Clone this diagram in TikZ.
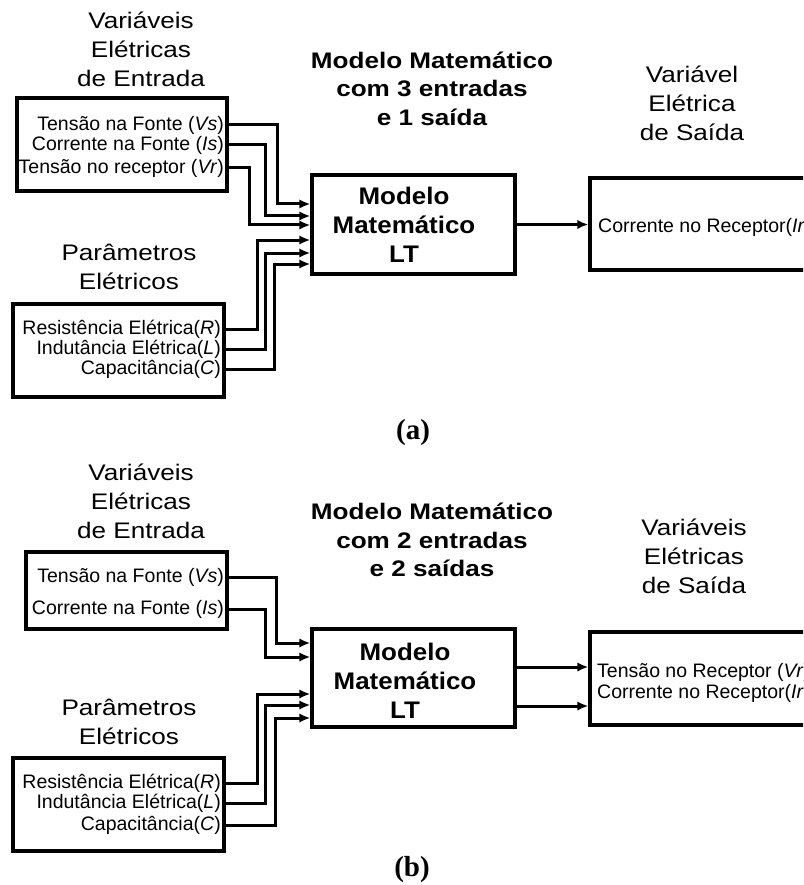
\documentclass[tikz,border=0pt]{standalone}
\usepackage{fontspec}
\setmainfont{Liberation Sans}
\newfontfamily\headfont[FakeStretch=1.16]{Liberation Sans}
\newfontfamily\modelfont[FakeStretch=1.08]{Liberation Sans}
\newfontfamily\capfont{Liberation Serif}
\usetikzlibrary{arrows.meta}

\tikzset{
  frame/.style={draw, line width=3.4pt, inner sep=0pt},
  wire/.style={line width=3pt, -{Latex[length=11pt,width=9.5pt]}},
  head/.style={align=center, inner sep=0pt, font=\headfont\fontsize{22.5}{29}\selectfont},
  headbf/.style={align=center, inner sep=0pt, font=\headfont\bfseries\fontsize{22.5}{28.5}\selectfont},
  item/.style={anchor=east, inner sep=0pt, font=\fontsize{19.5}{22}\selectfont},
  modeltext/.style={align=center, inner sep=0pt, font=\modelfont\bfseries\fontsize{24}{29}\selectfont},
  sublabel/.style={inner sep=0pt, font=\capfont\bfseries\fontsize{29}{34}\selectfont},
}

\begin{document}
\begin{tikzpicture}[x=1pt,y=-1pt]
\useasboundingbox (0,0) rectangle (803,885);
\clip (0,0) rectangle (803,885);

% ---------------- (a): three inputs, one output ----------------
\node[head] (tinA) at (141,48.9) {Variáveis\\Elétricas\\de Entrada};
\node[headbf] (tmA) at (432,88.4) {Modelo Matemático\\com 3 entradas\\e 1 saída};
\node[head] (toutA) at (692,102.9) {Variável\\Elétrica\\de Saída};
\node[head] (tparA) at (129,267.4) {Parâmetros\\Elétricos};

\node[frame, minimum width=210pt, minimum height=93pt] (inA) at (122,144.5) {};
\node[item] (vsA) at (224,125) {Tensão na Fonte (\textit{Vs})};
\node[item] (isA) at (224,145) {Corrente na Fonte (\textit{Is})};
\node[item] (vrA) at (224,168) {Tensão no receptor (\textit{Vr})};

\node[frame, minimum width=211pt, minimum height=93pt] (parA) at (118.5,350.5) {};
\node[item] (rA) at (221,329) {Resistência Elétrica(\textit{R})};
\node[item] (lA) at (221,349) {Indutância Elétrica(\textit{L})};
\node[item] (cA) at (221,369) {Capacitância(\textit{C})};

\node[frame, minimum width=203pt, minimum height=99pt] (mA) at (413.5,224.5) {};
\node[modeltext] (mAt) at (404,225.3) {Modelo\\Matemático\\LT};

\node[frame, minimum width=260pt, minimum height=92pt] (outA) at (720,224) {};
\node[item, anchor=west] (irA) at (598,227) {Corrente no Receptor(\textit{Ir})};

\coordinate (kA1) at (277,204);
\coordinate (kA2) at (265,216);
\coordinate (kA3) at (249,225);
\coordinate (kA4) at (257,240);
\coordinate (kA5) at (265,253);
\coordinate (kA6) at (274,264);

\draw[wire] (inA.east |- vsA) -| (kA1) -- (kA1 -| mA.west);
\draw[wire] (inA.east |- isA) -| (kA2) -- (kA2 -| mA.west);
\draw[wire] (inA.east |- vrA) -| (kA3) -- (kA3 -| mA.west);
\draw[wire] (parA.east |- rA) -| (kA4) -- (kA4 -| mA.west);
\draw[wire] (parA.east |- lA) -| (kA5) -- (kA5 -| mA.west);
\draw[wire] (parA.east |- cA) -| (kA6) -- (kA6 -| mA.west);
\draw[wire] (mA.east) -- (mA.east -| outA.west);

\node[sublabel] (capA) at (413,433) {(a)};

% ---------------- (b): two inputs, two outputs ----------------
\node[head] (tinB) at (141,501.4) {Variáveis\\Elétricas\\de Entrada};
\node[headbf] (tmB) at (432,539.9) {Modelo Matemático\\com 2 entradas\\e 2 saídas};
\node[head] (toutB) at (694,556.4) {Variáveis\\Elétricas\\de Saída};
\node[head] (tparB) at (129,722.4) {Parâmetros\\Elétricos};

\node[frame, minimum width=201pt, minimum height=77pt] (inB) at (126.5,590.5) {};
\node[item] (vsB) at (224,577) {Tensão na Fonte (\textit{Vs})};
\node[item] (isB) at (224,609) {Corrente na Fonte (\textit{Is})};

\node[frame, minimum width=211pt, minimum height=93pt] (parB) at (118.5,804.5) {};
\node[item] (rB) at (221,783) {Resistência Elétrica(\textit{R})};
\node[item] (lB) at (221,803) {Indutância Elétrica(\textit{L})};
\node[item] (cB) at (221,825) {Capacitância(\textit{C})};

\node[frame, minimum width=203pt, minimum height=98pt] (mB) at (413.5,678) {};
\node[modeltext] (mBt) at (405,680.3) {Modelo\\Matemático\\LT};

\node[frame, minimum width=260pt, minimum height=93pt] (outB) at (720,678.5) {};
\node[item, anchor=west] (vrB) at (597,672) {Tensão no Receptor (\textit{Vr})};
\node[item, anchor=west] (irB) at (597,693) {Corrente no Receptor(\textit{Ir})};

\coordinate (kB1) at (276,643);
\coordinate (kB2) at (265,657);
\coordinate (kB3) at (257,694);
\coordinate (kB4) at (265,705);
\coordinate (kB5) at (275,718);
\coordinate (oB1) at (550,667);
\coordinate (oB2) at (550,706);

\draw[wire] (inB.east |- vsB) -| (kB1) -- (kB1 -| mB.west);
\draw[wire] (inB.east |- isB) -| (kB2) -- (kB2 -| mB.west);
\draw[wire] (parB.east |- rB) -| (kB3) -- (kB3 -| mB.west);
\draw[wire] (parB.east |- lB) -| (kB4) -- (kB4 -| mB.west);
\draw[wire] (parB.east |- cB) -| (kB5) -- (kB5 -| mB.west);
\draw[wire] (mB.east |- oB1) -- (outB.west |- oB1);
\draw[wire] (mB.east |- oB2) -- (outB.west |- oB2);

\node[sublabel] (capB) at (412,870) {(b)};
\end{tikzpicture}
\end{document}
